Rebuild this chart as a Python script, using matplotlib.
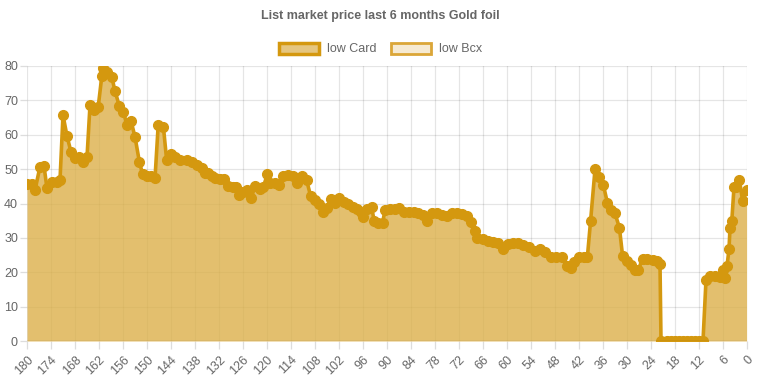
import numpy as np
import matplotlib.pyplot as plt
from matplotlib.patches import Patch

# days before today (x) and lowest card price (y)
days = [180, 178.8, 178, 176.75, 175.75, 175, 173.8, 172.6, 171.75, 171, 170, 169, 168, 167, 166, 165,
        164.25, 163.25, 162.2, 161.3, 161.1, 160, 158.8, 158, 156.9, 155.9, 155, 154, 153, 151.9, 151.1,
        150.1, 149.1, 148, 147.2, 145.9, 145.1, 144, 143, 141.75, 140.1, 138.8, 137.6, 136.3, 135.5,
        134.7, 133.8, 133, 131.75, 130.75, 129.8, 128.6, 127.75, 127, 126, 125, 124, 123, 121.75, 120.9,
        119.9, 119.25, 118, 116.9, 116.1, 114.7, 113.6, 112.6, 111.3, 110.1, 109.1, 108, 106.9, 105.9,
        104.9, 104.1, 103, 101.9, 100.75, 99.7, 98.6, 97.6, 96.6, 95.9, 94.9, 93.8, 93.25, 92.2, 91.1,
        90.5, 89.25, 88, 86.9, 85.75, 84.4, 83.25, 82.2, 81.1, 80.1, 78.8, 77.6, 76.3, 75.1, 73.8, 72.6,
        71.3, 70.1, 69.1, 68, 67.4, 65.9, 64.7, 63.4, 62.2, 61.1, 59.7, 58.4, 57.2, 55.9, 54.4, 53,
        51.75, 50.5, 49.1, 47.75, 46.3, 44.9, 44.1, 43.25, 41.9, 40.75, 39.9, 39.1, 38, 36.9, 35.9, 34.9,
        34.1, 33, 31.9, 31.1, 30.1, 29.1, 28, 27.2, 26.1, 24.9, 23.6, 22.6, 21.75, 21.5, 20, 19, 18, 17,
        16, 15, 14, 13, 12, 11, 10.25, 9.25, 8, 6.75, 6.1, 5.5, 5, 4.5, 4.25, 3.8, 3.25, 2.75, 1.9, 1.1, 0.1]
low_card = [45.8, 45.6, 43.9, 50.7, 50.9, 44.4, 46.3, 46.3, 46.8, 65.7, 59.6, 55, 53.1, 53.4, 52.1, 53.4,
            68.6, 67.2, 68.1, 77, 79.3, 78.3, 76.8, 72.7, 68.3, 66.7, 62.8, 64, 59.4, 52.1, 48.5,
            48, 48, 47.3, 62.8, 62.3, 52.8, 54.4, 53.4, 52.8, 52.6, 52.1, 51.2, 50.2, 48.9,
            48.9, 48, 47.3, 47.1, 47.1, 45.1, 44.9, 44.9, 42.4, 43.4, 43.9, 41.5, 45, 44.1, 44.9,
            48.5, 46, 46, 45.5, 48, 48.3, 48, 46, 48, 46.8, 42.2, 41, 40, 37.6,
            38.6, 41.2, 40.2, 41.5, 40.5, 39.8, 39, 38.3, 37.6, 36.1, 38.3, 38.9, 35, 34.2, 34.4,
            38.1, 38.3, 38.3, 38.6, 37.6, 37.6, 37.6, 37.3, 36.6, 35, 37.3, 37.1, 36.6, 36.3, 37.3, 37.3,
            36.9, 36.3, 34.7, 32.1, 30.1, 29.6, 29.2, 28.9, 28.4, 26.9, 28.2, 28.6, 28.4, 27.9, 27.4, 26.3,
            26.7, 26, 24.5, 24.5, 24.3, 21.8, 21.1, 23.1, 24.5, 24.5, 24.5, 35, 49.9, 47.6, 45.3, 40.2,
            38.1, 37.1, 33, 24.7, 23.3, 22.1, 20.6, 20.6, 24, 24, 23.7, 23.3, 22.4, 0, 0, 0, 0, 0,
            0, 0, 0, 0, 0, 0, 17.7, 18.9, 18.9, 18.7, 20.8, 18.3, 21.8, 26.7, 32.8, 35, 44.7, 44.9, 46.8, 40.8, 43.9]

x_ticks = list(range(180, -1, -6))
y_ticks = list(range(0, 81, 10))

line_col = '#d4980f'
fill_col = '#dcb04a'
bcx_fill = '#f6ead2'
bcx_edge = '#dba638'
text_col = '#666666'

plt.rcParams['font.family'] = ['Liberation Sans', 'DejaVu Sans']

fig = plt.figure(figsize=(7.61, 3.80), dpi=100)
ax = fig.add_axes([27/761, 39/380, 720/761, 275/380])

ax.fill_between(days, low_card, 0, color=fill_col, alpha=0.8, linewidth=0, zorder=2)
ax.plot(days, low_card, color=line_col, linewidth=2.6, marker='o', markersize=7,
        markerfacecolor=line_col, markeredgecolor=line_col, zorder=3)

ax.set_xlim(180, 0)
ax.set_ylim(0, 80)
ax.set_xticks(x_ticks)
ax.set_xticklabels([str(t) for t in x_ticks], rotation=45, ha='right', rotation_mode='anchor')
ax.set_yticks(y_ticks)
ax.grid(True, color='#000000', alpha=0.1, linewidth=0.9, zorder=1)
ax.set_axisbelow(True)
for s in ax.spines.values():
    s.set_visible(False)
ax.axhline(0, color='#000000', alpha=0.2, linewidth=1, zorder=4)
ax.tick_params(axis='both', colors='#dddddd', labelcolor=text_col, labelsize=9, width=0.9)
ax.tick_params(axis='x', length=6, pad=3)
ax.tick_params(axis='y', length=5, pad=1.5)

fig.text(0.5, 1 - 16/380, 'List market price last 6 months Gold foil', ha='center', va='center',
         fontsize=9, fontweight='bold', color=text_col)

handles = [Patch(facecolor='#e5c680', edgecolor=line_col, linewidth=2.5, label='low Card'),
           Patch(facecolor=bcx_fill, edgecolor=bcx_edge, linewidth=2, label='low Bcx')]
leg = fig.legend(handles=handles, loc='center', bbox_to_anchor=(0.5, 1 - 49/380), ncol=2,
                 frameon=False, fontsize=9, handlelength=3.2, handleheight=1.0, columnspacing=1.2,
                 handletextpad=0.6)
for t in leg.get_texts():
    t.set_color(text_col)

fig.savefig('out.png', dpi=100)
